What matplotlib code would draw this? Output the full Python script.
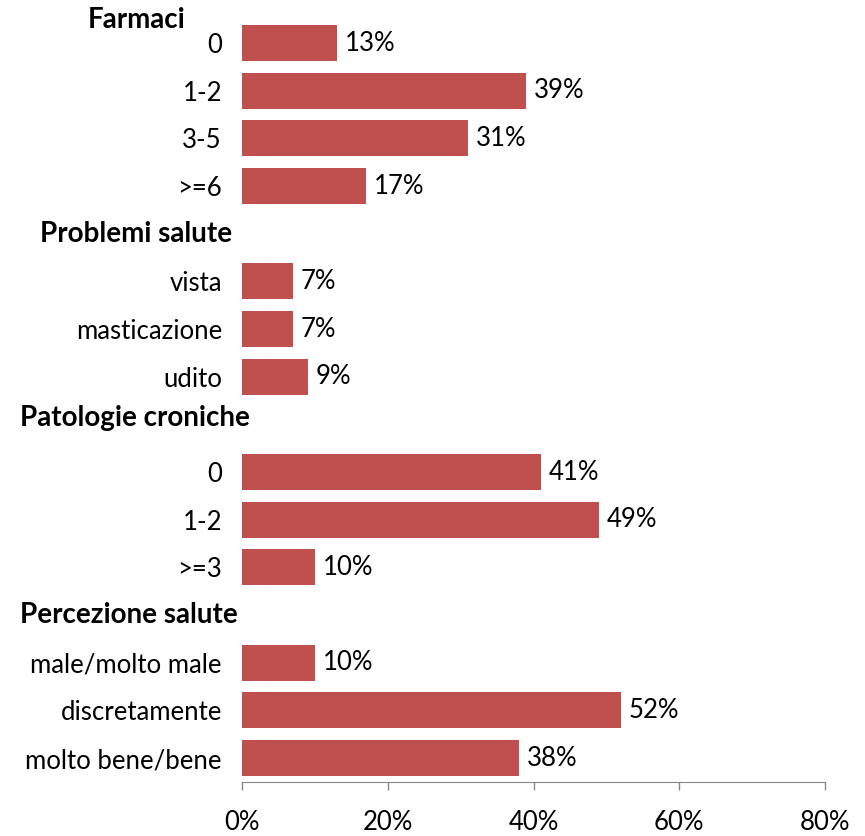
import matplotlib.pyplot as plt
from matplotlib.transforms import blended_transform_factory

plt.rcParams["font.family"] = ["Lato", "DejaVu Sans"]

# survey breakdown, one list per group
groups = ["Farmaci", "Problemi salute", "Patologie croniche", "Percezione salute"]
farmaci_labels = ["0", "1-2", "3-5", ">=6"]
farmaci_values = [13, 39, 31, 17]
problemi_labels = ["vista", "masticazione", "udito"]
problemi_values = [7, 7, 9]
patologie_labels = ["0", "1-2", ">=3"]
patologie_values = [41, 49, 10]
percezione_labels = ["male/molto male", "discretamente", "molto bene/bene"]
percezione_values = [10, 52, 38]

xticks = [0, 20, 40, 60, 80]
bar_color = "#C0504D"
axis_color = "#868686"

fig = plt.figure(figsize=(8.65, 8.36), dpi=100)
ax = fig.add_axes([0.2798, 0.0646, 0.9538 - 0.2798, 0.977 - 0.0646])

sections = [
    (farmaci_labels, farmaci_values),
    (problemi_labels, problemi_values),
    (patologie_labels, patologie_values),
    (percezione_labels, percezione_values),
]

# each group after the first gets an empty row for its heading
pos, labels, values, header_rows = [], [], [], []
row = 0
for i, (labs, vals) in enumerate(sections):
    if i > 0:
        header_rows.append(row)
        row += 1
    else:
        header_rows.append(row - 0.48)
    for lab, val in zip(labs, vals):
        pos.append(row)
        labels.append(lab)
        values.append(val)
        row += 1

ax.barh(pos, values, height=0.755, color=bar_color)
for y, v in zip(pos, values):
    ax.text(v + 1.1, y, f"{v}%", va="center", ha="left", fontsize=18.5)

ax.set_ylim(row - 0.5, -0.5)
ax.set_xlim(0, 80)
ax.set_yticks(pos)
ax.set_yticklabels(labels, fontsize=18.5)
ax.tick_params(axis="y", length=0, pad=14.5)

ax.set_xticks(xticks)
ax.set_xticklabels([f"{t}%" for t in xticks], fontsize=18.5)
ax.tick_params(axis="x", direction="out", length=6, width=1,
               color=axis_color, pad=14)

for side in ["top", "right", "left"]:
    ax.spines[side].set_visible(False)
ax.spines["bottom"].set_color(axis_color)

# group headings, placed in figure x / data y
head_x = [88, 40, 20, 20]
head_dy = [0, 0, -0.13, 0]
trans = blended_transform_factory(fig.transFigure, ax.transData)
for name, hx, hy, dy in zip(groups, head_x, header_rows, head_dy):
    ax.text(hx / 865, hy + dy, name, transform=trans, ha="left", va="center",
            fontsize=20, fontweight="bold", clip_on=False)

fig.savefig("out.png", dpi=100)
